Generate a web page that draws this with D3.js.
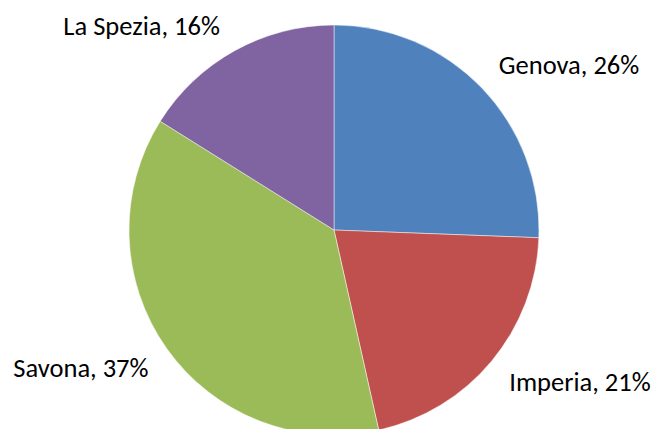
<!DOCTYPE html>
<html>
<head>
<meta charset="utf-8">
<script src="https://cdn.jsdelivr.net/npm/d3@7"></script>
<style>
  body { margin: 0; background: #fff; }
  svg { display: block; }
</style>
</head>
<body>
<svg id="chart" width="656" height="429"></svg>
<script>
// provinces, clockwise from 12 o'clock
const provinces = ["Genova", "Imperia", "Savona", "La Spezia"];
const shares = [25.6, 20.9, 37.4, 16.1];
const colors = ["#4f81bd", "#c0504d", "#9bbb59", "#8064a2"];

const width = 656, height = 429;
const cx = 334, cy = 230, radius = 205;

const svg = d3.select("#chart");
const g = svg.append("g").attr("transform", `translate(${cx},${cy})`);

const pie = d3.pie().sort(null).value(d => d.value);
const arcs = pie(provinces.map((p, i) => ({name: p, value: shares[i], color: colors[i]})));
const total = d3.sum(shares);

const arc = d3.arc().innerRadius(0).outerRadius(radius);
const labelArc = d3.arc().innerRadius(radius + 10).outerRadius(radius + 10);

g.selectAll("path")
  .data(arcs)
  .join("path")
    .attr("d", arc)
    .attr("fill", d => d.data.color)
    .attr("stroke", "rgba(255,255,255,0.6)")
    .attr("stroke-width", 0.8);

//labels sit just outside the rim, pushed away from the pie
g.selectAll("text")
  .data(arcs)
  .join("text")
    .each(function(d) {
      const [x, y] = labelArc.centroid(d);
      const right = x > 0;
      const upper = y < 0;
      d3.select(this)
        .attr("x", x + (right ? 10 : -10))
        .attr("y", upper ? y - 7 : y + 23)
        .attr("text-anchor", right ? "start" : "end");
    })
    .attr("font-family", "Carlito, Calibri, Lato, sans-serif")
    .attr("font-size", 26.5)
    .attr("fill", "#000")
    .text(d => `${d.data.name}, ${Math.round(d.data.value / total * 100)}%`);
</script>
</body>
</html>
